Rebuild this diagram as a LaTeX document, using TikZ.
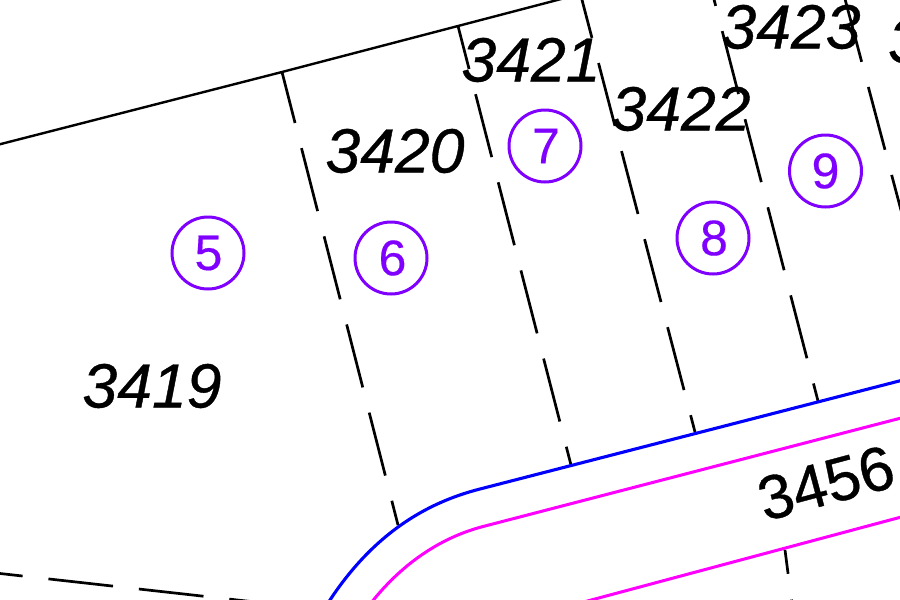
\documentclass[tikz,border=0pt]{standalone}
\usepackage{fontspec}
\setmainfont{Liberation Sans}
\newfontfamily\heavyfont[FakeBold=0.6]{Liberation Sans}
\newfontfamily\heavyital[FakeBold=0.6]{Liberation Sans Italic}
\newfontfamily\numfont[FakeBold=0.3]{Liberation Sans}
\definecolor{plotnum}{RGB}{127,0,255}
\definecolor{kerbblue}{RGB}{0,0,255}
\definecolor{roadpink}{RGB}{255,0,255}
\tikzset{
  lot/.style={line width=2.7pt,black,dash pattern=on 65pt off 26pt},
  edge/.style={line width=2.4pt,black},
  kerb/.style={line width=3.1pt,kerbblue},
  road/.style={line width=3pt,roadpink},
  parcel/.style={inner sep=0pt,font=\heavyital\fontsize{62.5}{62.5}\selectfont},
  plot/.style={circle,draw=plotnum,line width=3pt,minimum size=72pt,inner sep=0pt,text=plotnum,font=\numfont\fontsize{50}{50}\selectfont}
}
\begin{document}
\begin{tikzpicture}[x=1pt,y=-1pt]
\useasboundingbox (0,0) rectangle (900,600);
\clip (0,0) rectangle (900,600);
\fill[white] (0,0) rectangle (900,600);
% boundary
\draw[edge] (-5,145.5) -- (282,72) -- (458,26) -- (565,-2);
% lot lines
\draw[lot,dash phase=12.4pt] (282,72) -- (398,525);
\draw[lot,dash phase=20.6pt] (458,26) -- (571,465);
\draw[lot] (575.5,-25) -- (695,432);
\draw[lot] (699.4,-57) -- (818,401);
\draw[lot] (845,-1) -- (915,263);
\draw[lot,dash phase=41pt] (785,550) -- (791.5,600);
\draw[lot] (-42,568.8) -- (300,607);
% road
\draw[kerb] (905,379.5) -- (480,489) .. controls (425,503) and (372,535) .. (328,603);
\draw[road] (905,417) -- (485,526) .. controls (445,536) and (405,560) .. (371,603);
\draw[road] (905,516) -- (580,603);
% parcel numbers
\node[parcel] (p3419) at (152,386) {3419};
\node[parcel] (p3420) at (395,151) {3420};
\node[parcel] (p3421) at (531,60) {3421};
\node[parcel] (p3422) at (681,109) {3422};
\node[parcel] (p3423) at (791,27) {3423};
\node[parcel,anchor=west] (p3424) at (888,41) {3};
\node[inner sep=0pt,font=\heavyfont\fontsize{62}{62}\selectfont,rotate=15] (p3456) at (826,483) {3456};
% plots
\node[plot] (c5) at (208,253) {\kern1pt 5};
\node[plot] (c6) at (391,258) {\kern3pt 6};
\node[plot] (c7) at (545,146) {\kern2pt 7};
\node[plot] (c8) at (713,238) {\kern2pt 8};
\node[plot] (c9) at (825.5,171) {9};
\end{tikzpicture}
\end{document}
